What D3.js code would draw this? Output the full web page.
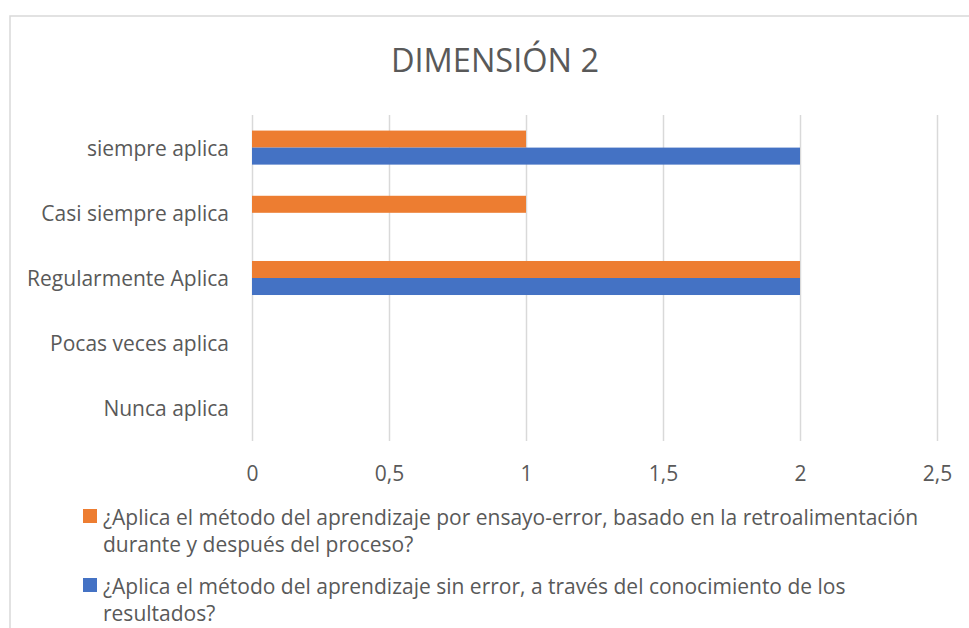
<!DOCTYPE html>
<html>
<head>
<meta charset="utf-8">
<script src="https://cdn.jsdelivr.net/npm/d3@7"></script>
<style>
  body { margin: 0; background: #fff; }
  text { font-family: "Open Sans", sans-serif; fill: #595959; }
</style>
</head>
<body>
<div id="chart"></div>
<script>
// categories from top to bottom
const categories = ["siempre aplica", "Casi siempre aplica", "Regularmente Aplica", "Pocas veces aplica", "Nunca aplica"];
const seriesKeys = ["ensayo", "sinError"];
const ensayoValues = [1, 1, 2, 0, 0];
const sinErrorValues = [2, 0, 2, 0, 0];
const seriesColors = ["#ED7D31", "#4472C4"];
const seriesLabels = [
    ["¿Aplica el método del aprendizaje por ensayo-error, basado en la retroalimentación", "durante y después del proceso?"],
    ["¿Aplica el método del aprendizaje sin error, a través del conocimiento de los", "resultados?"]
];
const tickValues = [0, 0.5, 1, 1.5, 2, 2.5];
const title = "DIMENSIÓN 2";

const ctx = {
    w: 969,
    h: 628,
    plotLeft: 252,
    plotRight: 937,
    plotTop: 115,
    plotBottom: 441
};

function createViz() {
    const svg = d3.select("#chart").append("svg")
        .attr("width", ctx.w)
        .attr("height", ctx.h);

    // chart frame (only left and top edges visible)
    svg.append("rect")
        .attr("x", 10)
        .attr("y", 16)
        .attr("width", 1000)
        .attr("height", 700)
        .attr("fill", "none")
        .attr("stroke", "#d9d9d9")
        .attr("stroke-width", 1.5);

    svg.append("text")
        .attr("x", 495)
        .attr("y", 72)
        .attr("text-anchor", "middle")
        .style("font-size", "32.5px")
        .text(title);

    const x = d3.scaleLinear()
        .domain([0, 2.5])
        .range([ctx.plotLeft, ctx.plotRight]);

    const y0 = d3.scaleBand()
        .domain(categories)
        .range([ctx.plotTop, ctx.plotBottom])
        .paddingInner(0.478)
        .paddingOuter(0.239);

    const y1 = d3.scaleBand()
        .domain(seriesKeys)
        .range([0, y0.bandwidth()]);

    const color = d3.scaleOrdinal().domain(seriesKeys).range(seriesColors);

    const locale = d3.formatLocale({decimal: ",", thousands: ".", grouping: [3], currency: ["", "€"]});

    // x axis with vertical gridlines
    const xAxis = svg.append("g")
        .attr("transform", `translate(0,${ctx.plotBottom})`)
        .call(d3.axisBottom(x)
            .tickValues(tickValues)
            .tickSize(-(ctx.plotBottom - ctx.plotTop))
            .tickPadding(25)
            .tickFormat(locale.format("~g")));
    xAxis.select(".domain").remove();
    xAxis.selectAll(".tick line")
        .attr("stroke", "#d9d9d9")
        .attr("stroke-width", 1.5);
    xAxis.selectAll(".tick text")
        .style("font-size", "21px")
        .style("font-family", "'Open Sans', sans-serif")
        .attr("fill", "#595959");

    // category labels
    svg.append("g")
        .selectAll("text")
        .data(categories)
        .join("text")
        .attr("x", 229)
        .attr("y", d => y0(d) + y0.bandwidth() / 2)
        .attr("text-anchor", "end")
        .attr("dominant-baseline", "central")
        .style("font-size", "21px")
        .text(d => d);

    // bars
    const rows = categories.map((c, i) => ({
        category: c,
        values: [
            {key: "ensayo", value: ensayoValues[i]},
            {key: "sinError", value: sinErrorValues[i]}
        ]
    }));

    svg.append("g")
        .selectAll("g")
        .data(rows)
        .join("g")
        .attr("transform", d => `translate(0,${y0(d.category)})`)
        .selectAll("rect")
        .data(d => d.values)
        .join("rect")
        .attr("x", x(0))
        .attr("y", d => y1(d.key))
        .attr("width", d => x(d.value) - x(0))
        .attr("height", y1.bandwidth())
        .attr("fill", d => color(d.key));

    // legend
    const legend = svg.append("g")
        .selectAll("g")
        .data(seriesKeys)
        .join("g")
        .attr("transform", (d, i) => `translate(83,${509 + i * 69})`);

    legend.append("rect")
        .attr("width", 14)
        .attr("height", 14)
        .attr("fill", d => color(d));

    legend.append("text")
        .attr("x", 20)
        .attr("y", 16)
        .style("font-size", "21px")
        .selectAll("tspan")
        .data((d, i) => seriesLabels[i])
        .join("tspan")
        .attr("x", 20)
        .attr("dy", (d, j) => j === 0 ? 0 : 27)
        .text(d => d);
}

document.addEventListener("DOMContentLoaded", function () {
    createViz();
});
</script>
</body>
</html>
